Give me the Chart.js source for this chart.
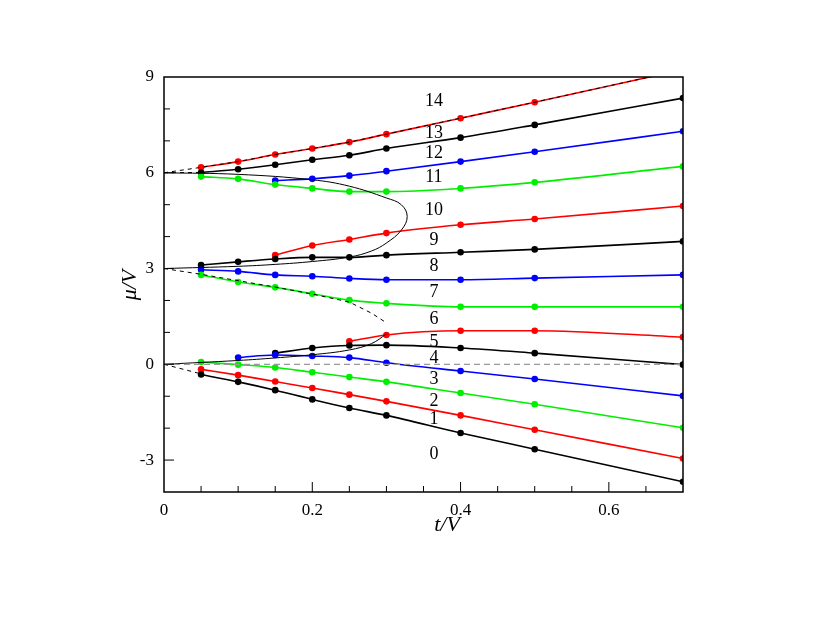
<!DOCTYPE html>
<html><head><meta charset="utf-8">
<script src="https://cdn.jsdelivr.net/npm/chart.js@4/dist/chart.umd.min.js"></script>
<style>html,body{margin:0;background:#fff}#wrap{width:817px;height:632px}</style>
</head><body><div id="wrap"><canvas id="c"></canvas></div>
<script>
// t/V sample points
const tVals = [0.05, 0.1, 0.15, 0.2, 0.25, 0.3, 0.4, 0.5, 0.7];
// mu/V for each particle-number branch (null = not present)
const s0  = [-0.32, -0.55, -0.81, -1.10, -1.37, -1.60, -2.15, -2.66, -3.68];
const s1  = [-0.16, -0.34, -0.54, -0.74, -0.95, -1.16, -1.60, -2.05, -2.95];
const s2  = [0.07, -0.01, -0.10, -0.25, -0.40, -0.55, -0.90, -1.25, -1.99];
const s3  = [null, 0.21, 0.29, 0.26, 0.21, 0.05, -0.21, -0.46, -0.99];
const s4  = [null, null, 0.35, 0.51, 0.59, 0.60, 0.51, 0.35, -0.01];
const s5  = [null, null, null, null, 0.72, 0.92, 1.05, 1.05, 0.85];
const s6  = [2.80, 2.58, 2.41, 2.21, 2.01, 1.91, 1.80, 1.80, 1.80];
const s7  = [2.96, 2.91, 2.80, 2.76, 2.69, 2.65, 2.65, 2.70, 2.80];
const s8  = [3.11, 3.21, 3.30, 3.35, 3.35, 3.42, 3.51, 3.60, 3.85];
const s9  = [null, null, 3.42, 3.72, 3.91, 4.11, 4.37, 4.55, 4.96];
const s10 = [5.88, 5.81, 5.63, 5.51, 5.41, 5.41, 5.51, 5.70, 6.20];
const s11 = [null, null, 5.76, 5.81, 5.91, 6.05, 6.35, 6.66, 7.30];
const s12 = [6.01, 6.11, 6.25, 6.41, 6.55, 6.76, 7.10, 7.50, 8.34];
const s13 = [6.17, 6.35, 6.57, 6.76, 6.96, 7.21, 7.71, 8.21, 9.23];
const seriesColors = ['#000','#f00','#0e0','#00f','#000','#f00','#0e0','#00f','#000','#f00','#0e0','#00f','#000','#f00'];
// Mott lobe boundaries
const lobe1 = [[0,3],[0.1,3.07],[0.15,3.13],[0.2,3.22],[0.25,3.36],[0.28,3.55],[0.3,3.8],[0.32,4.2],[0.328,4.63],[0.32,5.0],[0.3,5.21],[0.25,5.58],[0.2,5.78],[0.1,5.95],[0,6]];
const lobe0Low = [[0,0],[0.1,0.12],[0.15,0.2],[0.2,0.3],[0.25,0.45],[0.28,0.65],[0.3,0.95]];
const lobe0Up = [[0,3],[0.05,2.82],[0.1,2.62],[0.15,2.42],[0.2,2.2],[0.25,1.95],[0.28,1.6],[0.3,1.3]];
const dashTop = [[0,6],[0.05,6.17],[0.1,6.35],[0.15,6.57],[0.2,6.76],[0.25,6.96],[0.3,7.21],[0.4,7.71],[0.5,8.21],[0.7,9.23]];
const dashTop2 = [[0,6],[0.05,6.01]];
const dashLow = [[0,0],[0.05,-0.3]];
const zeroLine = [[0,0],[0.7,0]];
const labelText = ['14','13','12','11','10','9','8','7','6','5','4','3','2','1','0'];
const labelY = [8.25, 7.25, 6.62, 5.87, 4.84, 3.87, 3.06, 2.25, 1.41, 0.69, 0.19, -0.47, -1.16, -1.72, -2.81];
const labelX = 0.364;
const xTicks = [0, 0.2, 0.4, 0.6];
const yTicks = [-3, 0, 3, 6, 9];

const pts = arr => arr.map(p => ({x: p[0], y: p[1]}));
const datasets = [];
datasets.push({data: pts(zeroLine), showLine: true, borderColor: '#999', borderWidth: 1.2, borderDash: [6,4], pointRadius: 0});
[lobe0Up, dashTop, dashTop2, dashLow].forEach(d => datasets.push({data: pts(d), showLine: true, borderColor: '#000', borderWidth: 1, borderDash: [4,4], pointRadius: 0}));
[lobe1, lobe0Low].forEach(d => datasets.push({data: pts(d), showLine: true, borderColor: '#000', borderWidth: 1, pointRadius: 0, tension: 0.4}));
[s0,s1,s2,s3,s4,s5,s6,s7,s8,s9,s10,s11,s12,s13].forEach((s, i) => {
  const d = [];
  s.forEach((v, j) => { if (v !== null) d.push({x: tVals[j], y: v}); });
  datasets.push({data: d, showLine: true, borderColor: seriesColors[i], backgroundColor: seriesColors[i], borderWidth: 1.6, pointRadius: 3.3, pointBorderWidth: 0, cubicInterpolationMode: 'monotone'});
});

const deco = {
  id: 'deco',
  afterDatasetsDraw(chart) {
    const {ctx, chartArea: a, scales: {x, y}} = chart;
    ctx.save();
    ctx.strokeStyle = '#000'; ctx.lineWidth = 1.5;
    ctx.strokeRect(a.left, a.top, a.right - a.left, a.bottom - a.top);
    ctx.lineWidth = 1;
    for (let k = 1; k < 14; k++) {
      const px = x.getPixelForValue(k * 0.05);
      const len = k % 4 === 0 ? 10 : 6;
      ctx.beginPath(); ctx.moveTo(px, a.bottom); ctx.lineTo(px, a.bottom - len); ctx.stroke();
    }
    for (let v = -3; v < 9; v++) {
      const py = y.getPixelForValue(v);
      const len = v % 3 === 0 ? 10 : 6;
      ctx.beginPath(); ctx.moveTo(a.left, py); ctx.lineTo(a.left + len, py); ctx.stroke();
    }
    ctx.fillStyle = '#000';
    ctx.font = '18px "Liberation Serif"';
    ctx.textAlign = 'center'; ctx.textBaseline = 'middle';
    labelText.forEach((t, i) => ctx.fillText(t, x.getPixelForValue(labelX), y.getPixelForValue(labelY[i])));
    ctx.font = 'italic 22px "Liberation Serif"';
    ctx.fillText('t/V', 447, 525);
    ctx.translate(130, 285); ctx.rotate(-Math.PI / 2);
    ctx.fillText('\u03bc/V', 0, 0);
    ctx.restore();
  }
};

new Chart(document.getElementById('c'), {
  type: 'scatter',
  data: {datasets},
  options: {
    responsive: true, maintainAspectRatio: false, animation: false,
    layout: {padding: {left: 0, right: 134, top: 77, bottom: 80}},
    plugins: {legend: {display: false}, tooltip: {enabled: false}},
    elements: {line: {fill: false}},
    scales: {
      x: {type: 'linear', min: 0, max: 0.7,
        afterBuildTicks: s => { s.ticks = xTicks.map(v => ({value: v})); },
        afterFit: s => { s.height = 60; },
        grid: {display: false, drawTicks: false}, border: {display: false},
        ticks: {color: '#000', padding: 8, font: {family: 'Liberation Serif', size: 17}, callback: v => String(v)}},
      y: {min: -4, max: 9,
        afterBuildTicks: s => { s.ticks = yTicks.map(v => ({value: v})); },
        afterFit: s => { s.width = 164; },
        grid: {display: false, drawTicks: false}, border: {display: false},
        ticks: {color: '#000', padding: 10, font: {family: 'Liberation Serif', size: 17}}}
    }
  },
  plugins: [deco]
});
</script></body></html>
